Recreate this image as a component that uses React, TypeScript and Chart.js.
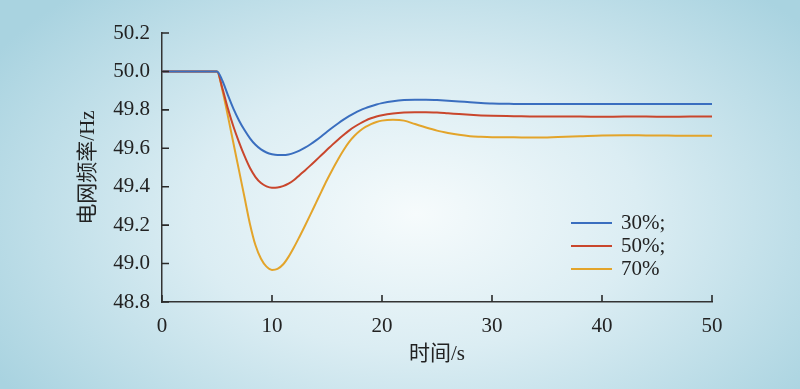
import React, { useEffect, useRef } from "react";
import { Chart, registerables } from "chart.js";

const time = [0, 5, 5.5, 6, 6.5, 7, 7.5, 8, 8.5, 9, 9.5, 10, 10.5, 11, 11.5, 12, 12.5, 13, 13.5, 14, 14.5, 15, 15.5, 16, 16.5, 17, 17.5, 18, 18.5, 19, 19.5, 20, 21, 22, 23, 24, 25, 26, 27, 28, 29, 30, 32, 34, 36, 38, 40, 42, 44, 46, 48, 50];

const freq30 = [50.0, 50.0, 49.95, 49.875, 49.805, 49.745, 49.695, 49.652, 49.618, 49.594, 49.578, 49.569, 49.565, 49.565, 49.568, 49.576, 49.588, 49.603, 49.621, 49.641, 49.663, 49.686, 49.708, 49.729, 49.749, 49.767, 49.783, 49.797, 49.809, 49.819, 49.828, 49.835, 49.845, 49.851, 49.853, 49.853, 49.851, 49.848, 49.844, 49.84, 49.836, 49.833, 49.831, 49.83, 49.83, 49.83, 49.83, 49.83, 49.83, 49.83, 49.83, 49.83];

const freq50 = [50.0, 50.0, 49.91, 49.805, 49.712, 49.632, 49.56, 49.497, 49.45, 49.419, 49.402, 49.395, 49.396, 49.403, 49.416, 49.435, 49.46, 49.485, 49.511, 49.538, 49.565, 49.592, 49.619, 49.645, 49.669, 49.692, 49.712, 49.729, 49.744, 49.756, 49.765, 49.772, 49.781, 49.786, 49.788, 49.788, 49.786, 49.782, 49.778, 49.774, 49.771, 49.769, 49.767, 49.765, 49.765, 49.765, 49.764, 49.765, 49.765, 49.764, 49.765, 49.765];

const freq70 = [50.0, 50.0, 49.9, 49.765, 49.625, 49.485, 49.345, 49.205, 49.095, 49.025, 48.984, 48.967, 48.972, 48.995, 49.035, 49.085, 49.14, 49.197, 49.256, 49.316, 49.376, 49.435, 49.49, 49.542, 49.59, 49.632, 49.665, 49.691, 49.711, 49.726, 49.737, 49.744, 49.748, 49.744, 49.726, 49.708, 49.692, 49.68, 49.67, 49.663, 49.66, 49.658, 49.657, 49.656, 49.659, 49.663, 49.667, 49.668, 49.667, 49.666, 49.665, 49.665];

const seriesLabels = ["30%;", "50%;", "70%"];
const seriesColors = ["#3a6ebf", "#c9462c", "#e3a42a"];
const seriesValues = [freq30, freq50, freq70];

const xTitle = "时间/s";
const yTitle = "电网频率/Hz";

const serif = "'Liberation Serif', 'Noto Sans CJK SC', serif";

const inwardTicks = {
  id: "inwardTicks",
  afterDraw(chart: any) {
    const ctx = chart.ctx;
    const x = chart.scales.x;
    const y = chart.scales.y;
    const area = chart.chartArea;
    ctx.save();
    ctx.strokeStyle = "#2a2a2a";
    ctx.lineWidth = 1.6;
    ctx.beginPath();
    for (const t of x.ticks) {
      const px = x.getPixelForValue(t.value);
      ctx.moveTo(px, area.bottom);
      ctx.lineTo(px, area.bottom - 7);
    }
    for (const t of y.ticks) {
      const py = y.getPixelForValue(t.value);
      ctx.moveTo(area.left, py);
      ctx.lineTo(area.left + 7, py);
    }
    ctx.stroke();
    ctx.restore();
  },
};

Chart.register(...registerables, inwardTicks);

export default function App() {
  const canvasRef = useRef<HTMLCanvasElement | null>(null);

  useEffect(() => {
    if (!canvasRef.current) return;
    const chart = new Chart(canvasRef.current, {
      type: "line",
      data: {
        datasets: seriesValues.map((vals, i) => ({
          label: seriesLabels[i],
          data: time.map((t, j) => ({ x: t, y: vals[j] })),
          borderColor: seriesColors[i],
          backgroundColor: seriesColors[i],
          borderWidth: 2,
          pointRadius: 0,
          cubicInterpolationMode: "monotone" as const,
          fill: false,
        })),
      },
      options: {
        animation: false,
        responsive: false,
        maintainAspectRatio: false,
        layout: { padding: { left: 0, right: 88, top: 33, bottom: 0 } },
        plugins: { legend: { display: false }, tooltip: { enabled: false } },
        scales: {
          x: {
            type: "linear",
            min: 0,
            max: 50,
            afterFit: (s: any) => {
              s.height = 87;
            },
            ticks: {
              stepSize: 10,
              color: "#222",
              padding: 12,
              font: { family: serif, size: 21 },
            },
            grid: {
              display: true,
              drawOnChartArea: false,
              drawTicks: false,
              tickLength: 0,
            },
            border: { display: true, color: "#333", width: 1.5 },
            title: {
              display: true,
              text: xTitle,
              color: "#222",
              font: { family: serif, size: 21 },
              padding: { top: 0, bottom: 22 },
            },
          },
          y: {
            type: "linear",
            min: 48.8,
            max: 50.2,
            afterFit: (s: any) => {
              s.width = 162;
            },
            ticks: {
              stepSize: 0.2,
              color: "#222",
              padding: 12,
              font: { family: serif, size: 21 },
              callback: (v: any) => Number(v).toFixed(1),
            },
            grid: {
              display: true,
              drawOnChartArea: false,
              drawTicks: false,
              tickLength: 0,
            },
            border: { display: true, color: "#333", width: 1.5 },
            title: {
              display: true,
              text: yTitle,
              color: "#222",
              font: { family: serif, size: 21 },
              padding: { top: 76, bottom: 0 },
            },
          },
        },
      },
    });
    return () => chart.destroy();
  }, []);

  return (
    <div
      style={{
        position: "fixed",
        left: 0,
        top: 0,
        width: 800,
        height: 389,
        background:
          "radial-gradient(ellipse 62% 78% at 52% 55%, #f6fbfc 0%, #dbedf3 45%, #a9d3e0 100%)",
      }}
    >
      <canvas ref={canvasRef} width={800} height={389} style={{ display: "block" }} />
      {seriesLabels.map((lab, i) => (
        <div
          key={lab}
          style={{
            position: "absolute",
            left: 571,
            top: 211 + i * 23,
            height: 23,
            display: "flex",
            alignItems: "center",
            fontFamily: serif,
            fontSize: 21,
            color: "#222",
            lineHeight: "23px",
          }}
        >
          <span
            style={{
              display: "inline-block",
              width: 41,
              height: 2,
              background: seriesColors[i],
              marginRight: 9,
            }}
          />
          <span>{lab}</span>
        </div>
      ))}
    </div>
  );
}
